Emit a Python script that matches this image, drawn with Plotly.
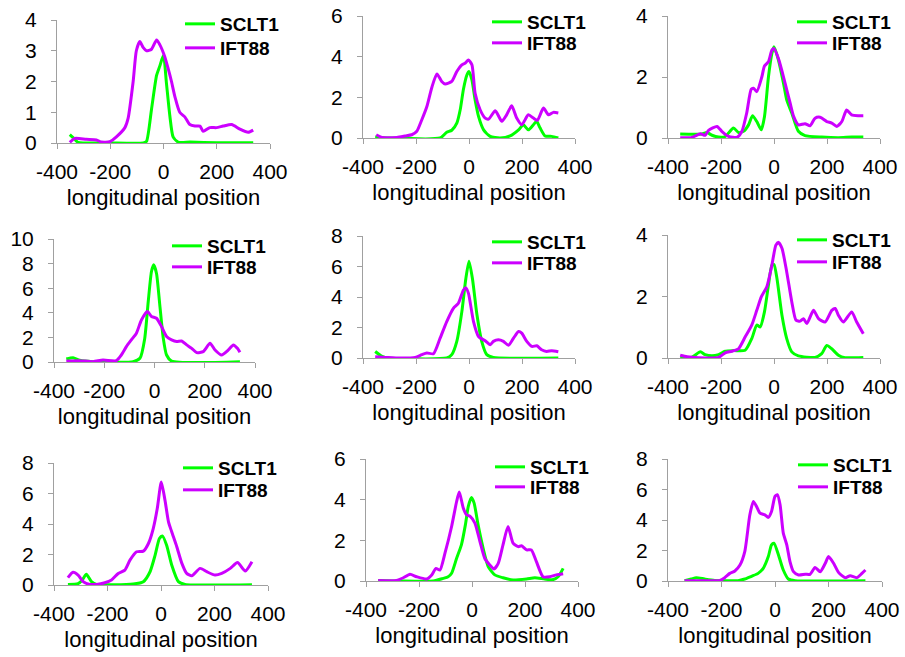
import plotly.graph_objects as go

# ---------------- data ----------------
# Panel 1
p1_sclt1_x = [-352, -333, -321, -200, -76, -64, -45, -26, -14, 0, 11, 24, 36, 55, 100, 200, 337]
p1_sclt1_y = [0.27, 0.12, 0.02, 0.0, 0.0, 0.05, 1.1, 2.2, 2.5, 2.85, 1.95, 0.87, 0.2, 0.03, 0.03, 0.01, 0.01]
p1_ift88_x = [-352, -333, -290, -252, -233, -202, -177, -145, -133, -114, -102, -89, -76, -64, -45, -26, -14, 5, 18, 30, 43, 61, 80, 99, 118, 137, 149, 174, 199, 224, 256, 287, 318, 337]
p1_ift88_y = [0.02, 0.15, 0.12, 0.1, 0.03, 0.04, 0.2, 0.5, 0.8, 2.0, 3.0, 3.3, 3.1, 3.0, 3.05, 3.35, 3.2, 2.8, 2.4, 2.0, 1.5, 1.0, 0.85, 0.6, 0.55, 0.55, 0.38, 0.5, 0.5, 0.55, 0.6, 0.45, 0.35, 0.42]

# Panel 2
p2_sclt1_x = [-354, -300, -109, -84, -65, -46, -33, -21, -8, 0, 11, 23, 36, 55, 80, 117, 155, 187, 205, 224, 243, 255, 268, 287, 312, 337]
p2_sclt1_y = [0.05, 0.0, 0.0, 0.28, 0.38, 0.73, 1.4, 2.4, 3.1, 3.27, 2.86, 1.88, 1.06, 0.4, 0.08, 0.0, 0.1, 0.4, 0.65, 0.4, 0.65, 0.82, 0.5, 0.1, 0.08, 0.0]
p2_ift88_x = [-350, -328, -272, -241, -216, -197, -178, -159, -140, -121, -103, -90, -65, -46, -27, -15, -2, 11, 23, 42, 61, 74, 99, 124, 142, 161, 180, 199, 224, 243, 258, 281, 300, 318, 337]
p2_ift88_y = [0.16, 0.03, 0.03, 0.1, 0.16, 0.33, 0.9, 1.55, 2.5, 3.15, 2.78, 2.66, 2.78, 3.27, 3.6, 3.68, 3.84, 3.6, 2.2, 1.39, 0.98, 0.93, 1.34, 0.82, 1.14, 1.58, 0.98, 0.65, 1.14, 0.98, 0.87, 1.47, 1.14, 1.26, 1.23]

# Panel 3
p3_sclt1_x = [-354, -272, -253, -234, -209, -184, -153, -134, -115, -96, -81, -65, -48, -36, -21, -8, 0, 17, 36, 48, 67, 92, 117, 180, 243, 293, 337]
p3_sclt1_y = [0.13, 0.13, 0.18, 0.09, 0.03, 0.05, 0.33, 0.18, 0.22, 0.43, 0.73, 0.54, 0.27, 0.7, 2.0, 2.77, 2.99, 2.55, 1.79, 1.25, 0.82, 0.22, 0.08, 0.03, 0.01, 0.03, 0.03]
p3_ift88_x = [-354, -310, -278, -260, -247, -215, -197, -171, -140, -121, -103, -86, -77, -65, -46, -36, -21, -8, 0, 17, 29, 42, 61, 74, 92, 117, 136, 155, 174, 199, 218, 237, 256, 274, 293, 318, 337]
p3_ift88_y = [0.01, 0.02, 0.14, 0.09, 0.25, 0.38, 0.22, 0.05, 0.02, 0.22, 0.82, 1.6, 1.63, 1.52, 2.0, 2.36, 2.5, 2.88, 2.93, 2.6, 2.23, 1.79, 1.14, 0.71, 0.43, 0.47, 0.4, 0.65, 0.68, 0.54, 0.49, 0.38, 0.54, 0.92, 0.76, 0.73, 0.73]

# Panel 4
p4_sclt1_x = [-351, -324, -298, -245, -85, -58, -39, -25, -12, -3, 8, 21, 35, 48, 68, 340]
p4_sclt1_y = [0.24, 0.35, 0.14, 0.03, 0.03, 0.3, 1.9, 4.9, 7.36, 7.9, 7.2, 4.65, 1.93, 0.57, 0.08, 0.03]
p4_ift88_x = [-351, -298, -245, -205, -152, -132, -112, -92, -72, -52, -28, -12, 8, 28, 48, 68, 88, 108, 128, 148, 168, 194, 221, 241, 267, 294, 314, 330, 340]
p4_ift88_y = [0.08, 0.11, 0.03, 0.16, 0.11, 0.57, 1.25, 1.8, 2.34, 3.42, 4.1, 3.7, 3.56, 2.88, 2.07, 1.8, 1.66, 1.71, 1.39, 1.11, 0.76, 0.84, 1.52, 0.98, 0.57, 0.98, 1.39, 1.11, 0.79]

# Panel 5
p5_sclt1_x = [-354, -328, -303, -84, -65, -46, -27, -12, 0, 13, 30, 48, 67, 92, 337]
p5_sclt1_y = [0.43, 0.11, 0.0, 0.0, 0.22, 1.09, 3.04, 5.2, 6.35, 5.2, 2.83, 1.09, 0.22, 0.04, 0.0]
p5_ift88_x = [-354, -310, -259, -203, -178, -159, -134, -109, -84, -59, -40, -21, -12, -2, 17, 36, 61, 80, 92, 111, 130, 149, 168, 187, 199, 218, 237, 256, 274, 293, 312, 337]
p5_ift88_y = [0.09, 0.04, 0.0, 0.04, 0.22, 0.33, 0.28, 1.3, 2.39, 3.26, 3.59, 4.46, 4.6, 4.24, 2.39, 1.41, 1.13, 0.87, 1.09, 1.2, 1.09, 0.83, 1.3, 1.74, 1.63, 1.09, 0.76, 0.8, 0.54, 0.43, 0.48, 0.41]

# Panel 6
p6_sclt1_x = [-354, -310, -278, -260, -234, -209, -184, -153, -109, -84, -65, -52, -36, -21, -8, 0, 11, 30, 48, 67, 92, 155, 180, 199, 218, 243, 268, 337]
p6_sclt1_y = [0.03, 0.03, 0.2, 0.11, 0.07, 0.11, 0.22, 0.24, 0.25, 0.63, 1.07, 1.01, 1.5, 2.37, 3.02, 3.04, 2.59, 1.39, 0.63, 0.2, 0.07, 0.02, 0.14, 0.41, 0.3, 0.09, 0.01, 0.02]
p6_ift88_x = [-354, -328, -285, -209, -184, -159, -134, -109, -84, -65, -48, -27, -8, 7, 17, 30, 48, 67, 83, 99, 111, 124, 149, 168, 193, 218, 231, 243, 262, 293, 312, 337]
p6_ift88_y = [0.09, 0.04, 0.01, 0.02, 0.17, 0.22, 0.3, 0.68, 1.07, 1.55, 1.99, 2.32, 3.02, 3.67, 3.76, 3.57, 2.8, 1.83, 1.23, 1.2, 1.28, 1.12, 1.55, 1.28, 1.17, 1.55, 1.61, 1.39, 1.17, 1.5, 1.17, 0.79]

# Panel 7
p7_sclt1_x = [-348, -310, -294, -279, -260, -241, -104, -66, -41, -22, -6, 5, 21, 40, 65, 90, 340]
p7_sclt1_y = [0.04, 0.09, 0.33, 0.7, 0.22, 0.04, 0.07, 0.22, 0.87, 1.96, 3.05, 3.22, 2.61, 1.31, 0.22, 0.04, 0.02]
p7_ift88_x = [-348, -329, -310, -291, -266, -241, -210, -185, -160, -135, -116, -91, -66, -47, -29, -14, 1, 15, 28, 40, 59, 78, 96, 115, 146, 171, 202, 227, 259, 286, 315, 340]
p7_ift88_y = [0.48, 0.83, 0.65, 0.22, 0.04, 0.04, 0.15, 0.33, 0.76, 0.98, 1.63, 2.18, 2.22, 2.72, 3.7, 5.01, 6.75, 5.55, 4.14, 3.49, 2.51, 1.42, 0.76, 0.61, 1.09, 0.87, 0.65, 0.76, 1.09, 1.48, 0.92, 1.53]

# Panel 8
p8_sclt1_x = [-354, -272, -146, -109, -90, -77, -58, -40, -25, -14, -2, 8, 23, 42, 61, 86, 117, 155, 206, 237, 274, 306, 325, 344]
p8_sclt1_y = [0.03, 0.0, 0.0, 0.13, 0.21, 0.38, 1.12, 1.78, 2.76, 3.67, 4.11, 3.83, 2.76, 1.61, 0.71, 0.3, 0.16, 0.05, 0.1, 0.16, 0.1, 0.07, 0.21, 0.62]
p8_ift88_x = [-354, -285, -259, -234, -209, -171, -152, -136, -121, -102, -77, -58, -48, -33, -21, -6, 11, 30, 48, 67, 83, 99, 117, 136, 155, 174, 187, 206, 224, 243, 268, 293, 318, 344]
p8_ift88_y = [0.03, 0.03, 0.16, 0.33, 0.21, 0.1, 0.3, 0.62, 0.54, 1.37, 2.68, 3.91, 4.38, 3.59, 3.26, 3.17, 2.85, 1.94, 1.12, 0.79, 0.59, 0.87, 1.78, 2.68, 1.86, 1.69, 1.73, 1.53, 1.53, 0.95, 0.21, 0.21, 0.3, 0.36]

# Panel 9
p9_sclt1_x = [-338, -313, -294, -263, -225, -138, -113, -88, -63, -44, -25, -13, -4, 13, 31, 50, 75, 338]
p9_sclt1_y = [0.02, 0.13, 0.22, 0.13, 0.04, 0.02, 0.13, 0.31, 0.5, 0.83, 1.6, 2.37, 2.48, 1.71, 0.72, 0.13, 0.02, 0.02]
p9_ift88_x = [-338, -263, -206, -188, -169, -150, -131, -113, -94, -81, -69, -56, -38, -25, -13, 0, 9, 19, 31, 44, 56, 69, 88, 113, 131, 150, 169, 188, 200, 219, 238, 263, 281, 306, 325, 338]
p9_ift88_y = [0.02, 0.02, 0.04, 0.22, 0.5, 0.66, 1.05, 1.93, 4.34, 5.22, 4.89, 4.45, 4.34, 4.17, 4.56, 5.55, 5.66, 5.0, 3.14, 2.37, 1.27, 0.61, 0.39, 0.44, 0.44, 0.88, 0.61, 1.16, 1.6, 1.16, 0.55, 0.22, 0.35, 0.22, 0.5, 0.72]

series_names = ["SCLT1", "IFT88"]
x_tick_values = [-400, -200, 0, 200, 400]
x_tick_labels = ["-400", "-200", "0", "200", "400"]
y_max = [4, 6, 4, 10, 8, 4, 8, 6, 8]
y_step = [1, 2, 2, 2, 2, 2, 2, 2, 2]
x_title = "longitudinal position"

panels = [
    (p1_sclt1_x, p1_sclt1_y, p1_ift88_x, p1_ift88_y),
    (p2_sclt1_x, p2_sclt1_y, p2_ift88_x, p2_ift88_y),
    (p3_sclt1_x, p3_sclt1_y, p3_ift88_x, p3_ift88_y),
    (p4_sclt1_x, p4_sclt1_y, p4_ift88_x, p4_ift88_y),
    (p5_sclt1_x, p5_sclt1_y, p5_ift88_x, p5_ift88_y),
    (p6_sclt1_x, p6_sclt1_y, p6_ift88_x, p6_ift88_y),
    (p7_sclt1_x, p7_sclt1_y, p7_ift88_x, p7_ift88_y),
    (p8_sclt1_x, p8_sclt1_y, p8_ift88_x, p8_ift88_y),
    (p9_sclt1_x, p9_sclt1_y, p9_ift88_x, p9_ift88_y),
]

# ---------------- layout geometry (pixels) ----------------
W, H = 905, 657
# (left, right, top, bottom) of each plot area
boxes = [
    (57, 270, 20, 143), (363, 575, 16, 138), (668, 880, 16, 138),
    (54, 255, 239, 362), (363, 575, 236, 358), (668, 880, 235, 358),
    (54, 268, 463, 585), (366, 578, 459, 581), (668, 882, 459, 581),
]
# legend line start x, SCLT1 row y, IFT88 row y
legend_pos = [
    (185, 24, 48), (492, 22, 43), (797, 22, 43),
    (172, 246, 267), (492, 242, 263), (797, 240, 262),
    (183, 468, 490), (495, 467, 487), (798, 465, 487),
]

GREEN = "#00FF00"
PURPLE = "#CC00FF"
AXIS_GREY = "#A0A0A0"
FONT = "Arial, 'Liberation Sans', sans-serif"

fig = go.Figure()
layout = dict(
    template="none",
    width=W, height=H, margin=dict(l=0, r=0, t=0, b=0, pad=0, autoexpand=False),
    paper_bgcolor="white", plot_bgcolor="white", showlegend=True,
    font=dict(family=FONT, color="black"),
)

legend_style = dict(
    xanchor="left", yanchor="middle", bgcolor="rgba(0,0,0,0)", borderwidth=0,
    font=dict(size=19, family=FONT, color="black", weight="bold"),
    itemwidth=30, tracegroupgap=0,
)

for i, (sx, sy, ix, iy) in enumerate(panels):
    n = i + 1
    xa = "x" if n == 1 else f"x{n}"
    ya = "y" if n == 1 else f"y{n}"
    lg_a = "legend" if n == 1 else f"legend{2 * n - 1}"
    lg_b = f"legend{2 * n}"
    fig.add_trace(go.Scatter(x=sx, y=sy, name=series_names[0], mode="lines",
                             line=dict(color=GREEN, width=3, shape="spline", smoothing=0.6),
                             xaxis=xa, yaxis=ya, legend=lg_a))
    fig.add_trace(go.Scatter(x=ix, y=iy, name=series_names[1], mode="lines",
                             line=dict(color=PURPLE, width=3, shape="spline", smoothing=0.6),
                             xaxis=xa, yaxis=ya, legend=lg_b))
    l, r, t, b = boxes[i]
    xkey = "xaxis" if n == 1 else f"xaxis{n}"
    ykey = "yaxis" if n == 1 else f"yaxis{n}"
    layout[xkey] = dict(
        domain=[l / W, r / W], anchor=ya, range=[-400, 400], automargin=False,
        tickvals=x_tick_values, ticktext=x_tick_labels, tickangle=0,
        ticks="outside", ticklen=5, tickcolor=AXIS_GREY,
        showline=True, linecolor=AXIS_GREY, linewidth=1, showgrid=False, zeroline=False,
        tickfont=dict(size=21, family=FONT, color="black"), ticklabelstandoff=5,
        title=dict(text=x_title, font=dict(size=22, family=FONT, color="black"), standoff=7),
    )
    layout[ykey] = dict(
        domain=[1 - b / H, 1 - t / H], anchor=xa, range=[0, y_max[i]], dtick=y_step[i],
        automargin=False, ticks="outside", ticklen=5, tickcolor=AXIS_GREY,
        showline=True, linecolor=AXIS_GREY, linewidth=1, showgrid=False, zeroline=False,
        tickfont=dict(size=21, family=FONT, color="black"), ticklabelstandoff=10,
    )
    lx, ya_row, yb_row = legend_pos[i]
    layout[lg_a] = dict(x=(lx - 5) / W, y=1 - ya_row / H, **legend_style)
    layout[lg_b] = dict(x=(lx - 5) / W, y=1 - yb_row / H, **legend_style)

fig.update_layout(**layout)
fig.write_html(
    "out.html",
    config={"displayModeBar": False},
    post_script="document.body.style.margin='0';document.body.style.overflow='hidden';",
)
